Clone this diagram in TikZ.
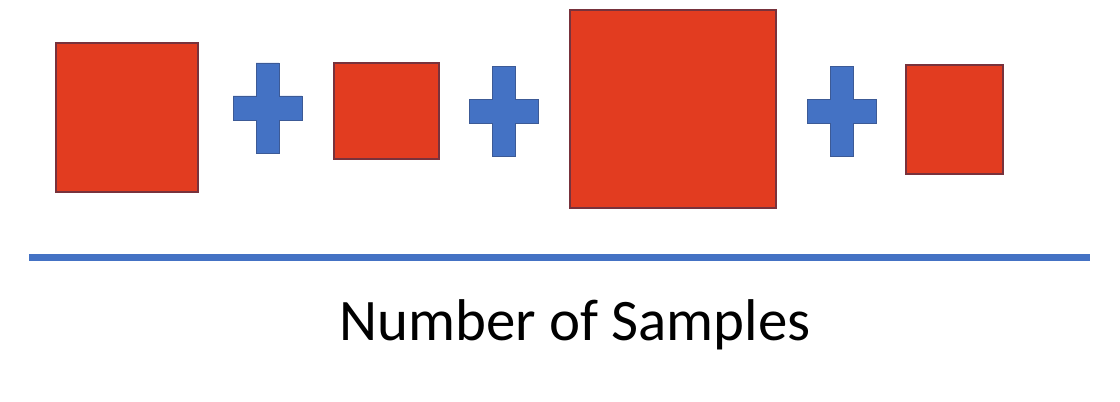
\documentclass[tikz,border=0pt]{standalone}
\usepackage{fontspec}
\setmainfont{Carlito}
\definecolor{boxred}{RGB}{226,60,32}
\definecolor{boxedge}{RGB}{120,50,60}
\definecolor{plusblue}{RGB}{68,114,196}
\definecolor{plusedge}{RGB}{60,90,150}
\tikzset{
  sample/.style={draw=boxedge, fill=boxred, line width=0.8pt, inner sep=0pt},
  plussign/.style={draw=plusedge, fill=plusblue, line width=0.5pt},
}
\begin{document}
\begin{tikzpicture}[x=0.02cm, y=-0.02cm]
\useasboundingbox (0,0) rectangle (1120,402);
% samples of different sizes
\node[sample, minimum width=2.84cm, minimum height=2.98cm] (s1) at (127,117.5) {};
\node[sample, minimum width=2.10cm, minimum height=1.92cm] (s2) at (386.5,111) {};
\node[sample, minimum width=4.12cm, minimum height=3.96cm] (s3) at (673,109) {};
\node[sample, minimum width=1.94cm, minimum height=2.18cm] (s4) at (954.5,119.5) {};

% plus signs between the samples
\foreach \x/\y in {267.5/108, 504/111.5, 841.5/111.5} {
    \draw[plussign] (\x,\y) ++(-11.5,-45) -- ++(23,0) -- ++(0,33) -- ++(23,0) -- ++(0,24)
        -- ++(-23,0) -- ++(0,33) -- ++(-23,0) -- ++(0,-33) -- ++(-23,0) -- ++(0,-24) -- ++(23,0) -- cycle;
}

% axis
\coordinate (axisL) at (29,257.5);
\coordinate (axisR) at (1090,257.5);
\draw[plusblue, line width=0.13cm] (axisL) -- (axisR);
\node[anchor=base, font=\fontsize{33.5}{40}\selectfont, inner sep=0pt] (label) at (575,340) {Number of Samples};
\end{tikzpicture}
\end{document}
